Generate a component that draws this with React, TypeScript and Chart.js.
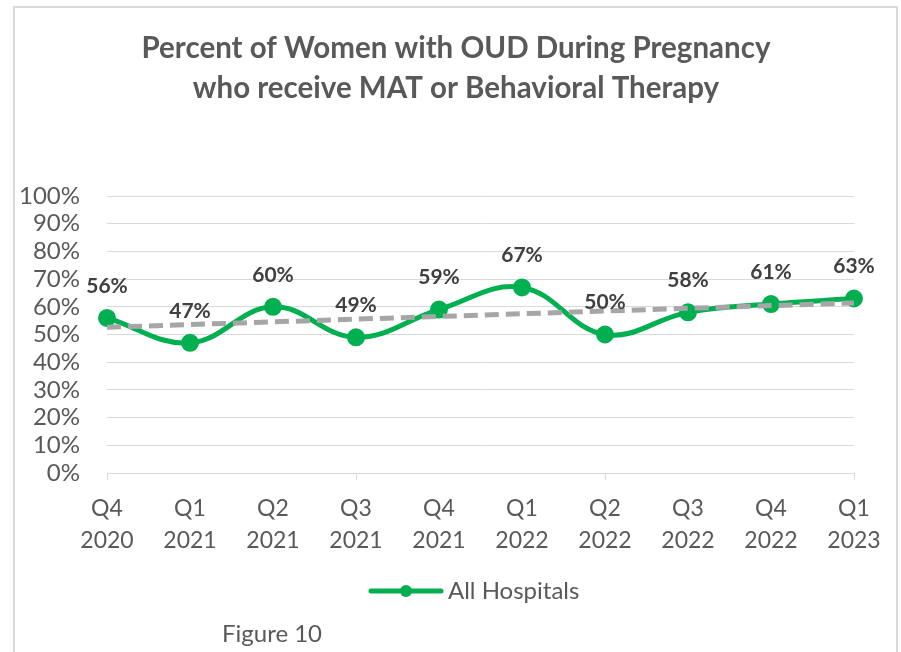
import React, { useEffect, useRef } from "react";
import { Chart, registerables } from "chart.js";

Chart.register(...registerables);

const categories: string[][] = [
  ["Q4", "2020"], ["Q1", "2021"], ["Q2", "2021"], ["Q3", "2021"], ["Q4", "2021"],
  ["Q1", "2022"], ["Q2", "2022"], ["Q3", "2022"], ["Q4", "2022"], ["Q1", "2023"],
];
const allHospitals: number[] = [56, 47, 60, 49, 59, 67, 50, 58, 61, 63];
const trendEnds: (number | null)[] = [52.6, null, null, null, null, null, null, null, null, 61.4];
const titleLines: string[] = ["Percent of Women with OUD During Pregnancy", "who receive MAT or Behavioral Therapy"];
const legendLabel = "All Hospitals";
const figureLabel = "Figure 10";

const GREEN = "#00b050";
const GRAY_TEXT = "#595959";
const FONT = "Lato, 'Open Sans', sans-serif";

const decorPlugin = {
  id: "decor",
  afterDatasetsDraw(chart: any) {
    const ctx = chart.ctx;
    const meta = chart.getDatasetMeta(1);
    ctx.save();
    ctx.font = `bold 21px ${FONT}`;
    ctx.fillStyle = "#404040";
    ctx.textAlign = "center";
    ctx.textBaseline = "middle";
    meta.data.forEach((pt: any, i: number) => {
      ctx.fillText(allHospitals[i] + "%", pt.x, pt.y - 32);
    });
    ctx.restore();
  },
  afterDraw(chart: any) {
    const ctx = chart.ctx;
    ctx.save();
    ctx.fillStyle = GRAY_TEXT;
    ctx.textAlign = "center";
    ctx.textBaseline = "alphabetic";
    ctx.font = `bold 29.5px ${FONT}`;
    ctx.fillText(titleLines[0], 456, 58);
    ctx.fillText(titleLines[1], 456, 98);
    // legend
    ctx.strokeStyle = GREEN;
    ctx.lineWidth = 5;
    ctx.lineCap = "round";
    ctx.beginPath();
    ctx.moveTo(371, 591);
    ctx.lineTo(441, 591);
    ctx.stroke();
    ctx.fillStyle = GREEN;
    ctx.beginPath();
    ctx.arc(406, 591, 6, 0, Math.PI * 2);
    ctx.fill();
    ctx.fillStyle = GRAY_TEXT;
    ctx.textAlign = "left";
    ctx.font = `24px ${FONT}`;
    ctx.fillText(legendLabel, 448, 599);
    ctx.fillText(figureLabel, 222, 642);
    ctx.restore();
  },
};

export default function App() {
  const ref = useRef<HTMLCanvasElement | null>(null);
  useEffect(() => {
    document.body.style.overflow = "hidden";
    const canvas = ref.current!;
    const chart = new Chart(canvas, {
      type: "line",
      data: {
        labels: categories,
        datasets: [
          {
            label: "Linear (All Hospitals)",
            data: trendEnds,
            borderColor: "#a6a6a6",
            borderWidth: 5,
            borderDash: [14, 7],
            pointRadius: 0,
            spanGaps: true,
            tension: 0,
            order: 0,
          },
          {
            label: legendLabel,
            data: allHospitals,
            borderColor: GREEN,
            backgroundColor: GREEN,
            borderWidth: 5,
            pointRadius: 6.5,
            pointBackgroundColor: GREEN,
            pointBorderColor: GREEN,
            tension: 0.4,
            order: 1,
          },
        ],
      },
      options: {
        responsive: false,
        animation: false,
        devicePixelRatio: 1,
        layout: { padding: { left: 0, right: 47, top: 196, bottom: 0 } },
        plugins: {
          legend: { display: false },
          title: { display: false },
          tooltip: { enabled: false },
        },
        scales: {
          x: {
            offset: false,
            grid: {
              display: true,
              drawOnChartArea: false,
              drawTicks: true,
              tickLength: 7,
              color: (c: any) => (c.index % 3 === 0 ? "#d9d9d9" : "rgba(0,0,0,0)"),
            },
            border: { display: true, color: "#d9d9d9" },
            ticks: {
              color: GRAY_TEXT,
              font: { family: FONT, size: 23, lineHeight: 1.4 },
              padding: 12,
              maxRotation: 0,
              autoSkip: false,
            },
            afterFit: (s: any) => {
              s.height = 179;
            },
          },
          y: {
            min: 0,
            max: 100,
            grid: { color: "#d9d9d9", drawTicks: false, tickLength: 0 },
            border: { display: false },
            ticks: {
              stepSize: 10,
              autoSkip: false,
              color: GRAY_TEXT,
              padding: 27,
              font: { family: FONT, size: 24 },
              callback: (v: any) => v + "%",
            },
            afterFit: (s: any) => {
              s.width = 107;
            },
          },
        },
      },
      plugins: [decorPlugin],
    });
    return () => chart.destroy();
  }, []);
  return (
    <div style={{ position: "fixed", left: 0, top: 0, width: 901, height: 652, background: "#fff" }}>
      <div
        style={{
          position: "absolute",
          left: 13,
          top: 6,
          width: 881,
          height: 660,
          borderLeft: "2px solid #d9d9d9",
          borderTop: "2px solid #d9d9d9",
          borderRight: "2px solid #d9d9d9",
        }}
      />
      <canvas ref={ref} width={901} height={652} style={{ position: "absolute", left: 0, top: 0, width: 901, height: 652 }} />
    </div>
  );
}
